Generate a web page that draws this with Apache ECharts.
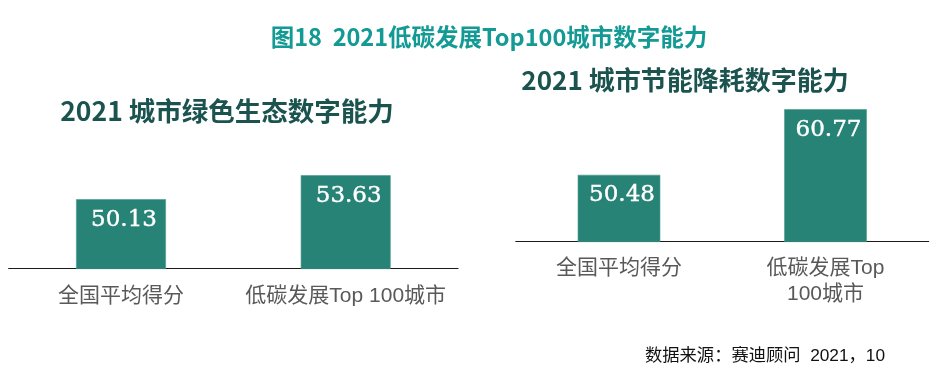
<!DOCTYPE html>
<html>
<head>
<meta charset="utf-8">
<script src="https://cdn.jsdelivr.net/npm/echarts@6/dist/echarts.min.js"></script>
<style>html,body{margin:0;padding:0;background:#fff;}#c{width:940px;height:379px;}</style>
</head>
<body>
<div id="c"></div>
<script>
var mainTitle = '图18  2021低碳发展Top100城市数字能力';
var leftTitle = '2021 城市绿色生态数字能力';
var rightTitle = '2021 城市节能降耗数字能力';
var sourceText = '数据来源：赛迪顾问  2021，10';
var leftCategories = ['全国平均得分', '低碳发展Top 100城市'];
var leftValues = [50.13, 53.63];
var rightCategories = ['全国平均得分', '低碳发展Top\n100城市'];
var rightValues = [50.48, 60.77];

var barColor = '#288377';
var cjk = '"Liberation Sans", "Noto Sans CJK SC", sans-serif';
var cjkBold = '"Noto Sans CJK SC", sans-serif';

var chart = echarts.init(document.getElementById('c'), null, {renderer: 'canvas'});

function xAxisCfg(idx, cats, margin) {
  return {
    type: 'category', gridIndex: idx, data: cats,
    axisLine: {show: true, lineStyle: {color: '#1a1a1a', width: 1}},
    axisTick: {show: false},
    axisLabel: {color: '#595959', fontSize: 21, fontFamily: cjk, margin: margin, lineHeight: 26, interval: 0}
  };
}
function yAxisCfg(idx, max) {
  return {
    type: 'value', gridIndex: idx, min: 40, max: max,
    show: false, splitLine: {show: false}
  };
}
function seriesCfg(idx, vals) {
  return {
    type: 'bar', xAxisIndex: idx, yAxisIndex: idx, data: vals,
    barWidth: '40%',
    itemStyle: {color: barColor, borderColor: '#4d9a90', borderWidth: 0.6},
    label: {
      show: true, position: 'insideTop', distance: 9, offset: [3, 0],
      color: '#ffffff', fontSize: 23, fontFamily: '"DejaVu Serif", serif',
      textBorderColor: '#ffffff', textBorderWidth: 0.4,
      formatter: function (p) { return p.value.toFixed(2); }
    },
    silent: true, animation: false
  };
}

chart.setOption({
  animation: false,
  grid: [
    {left: 8.65, width: 449.4, bottom: 110.3, height: 137.2},
    {left: 515.75, width: 413, bottom: 137.3, height: 191.4}
  ],
  xAxis: [xAxisCfg(0, leftCategories, 15), xAxisCfg(1, rightCategories, 14)],
  yAxis: [yAxisCfg(0, 60), yAxisCfg(1, 70)],
  series: [seriesCfg(0, leftValues), seriesCfg(1, rightValues)],
  graphic: [
    {type: 'text', x: 489, y: 37, style: {text: mainTitle, fill: '#139a94', font: 'bold 23.5px ' + cjkBold, textAlign: 'center', textVerticalAlign: 'middle'}},
    {type: 'text', x: 227, y: 111, style: {text: leftTitle, fill: '#1b534f', font: 'bold 26.5px ' + cjkBold, textAlign: 'center', textVerticalAlign: 'middle'}},
    {type: 'text', x: 685, y: 80, style: {text: rightTitle, fill: '#1b534f', font: 'bold 26px ' + cjkBold, textAlign: 'center', textVerticalAlign: 'middle'}},
    {type: 'text', x: 645, y: 356, style: {text: sourceText, fill: '#111111', font: '17.3px ' + cjk, textAlign: 'left', textVerticalAlign: 'middle'}}
  ]
});
</script>
</body>
</html>
